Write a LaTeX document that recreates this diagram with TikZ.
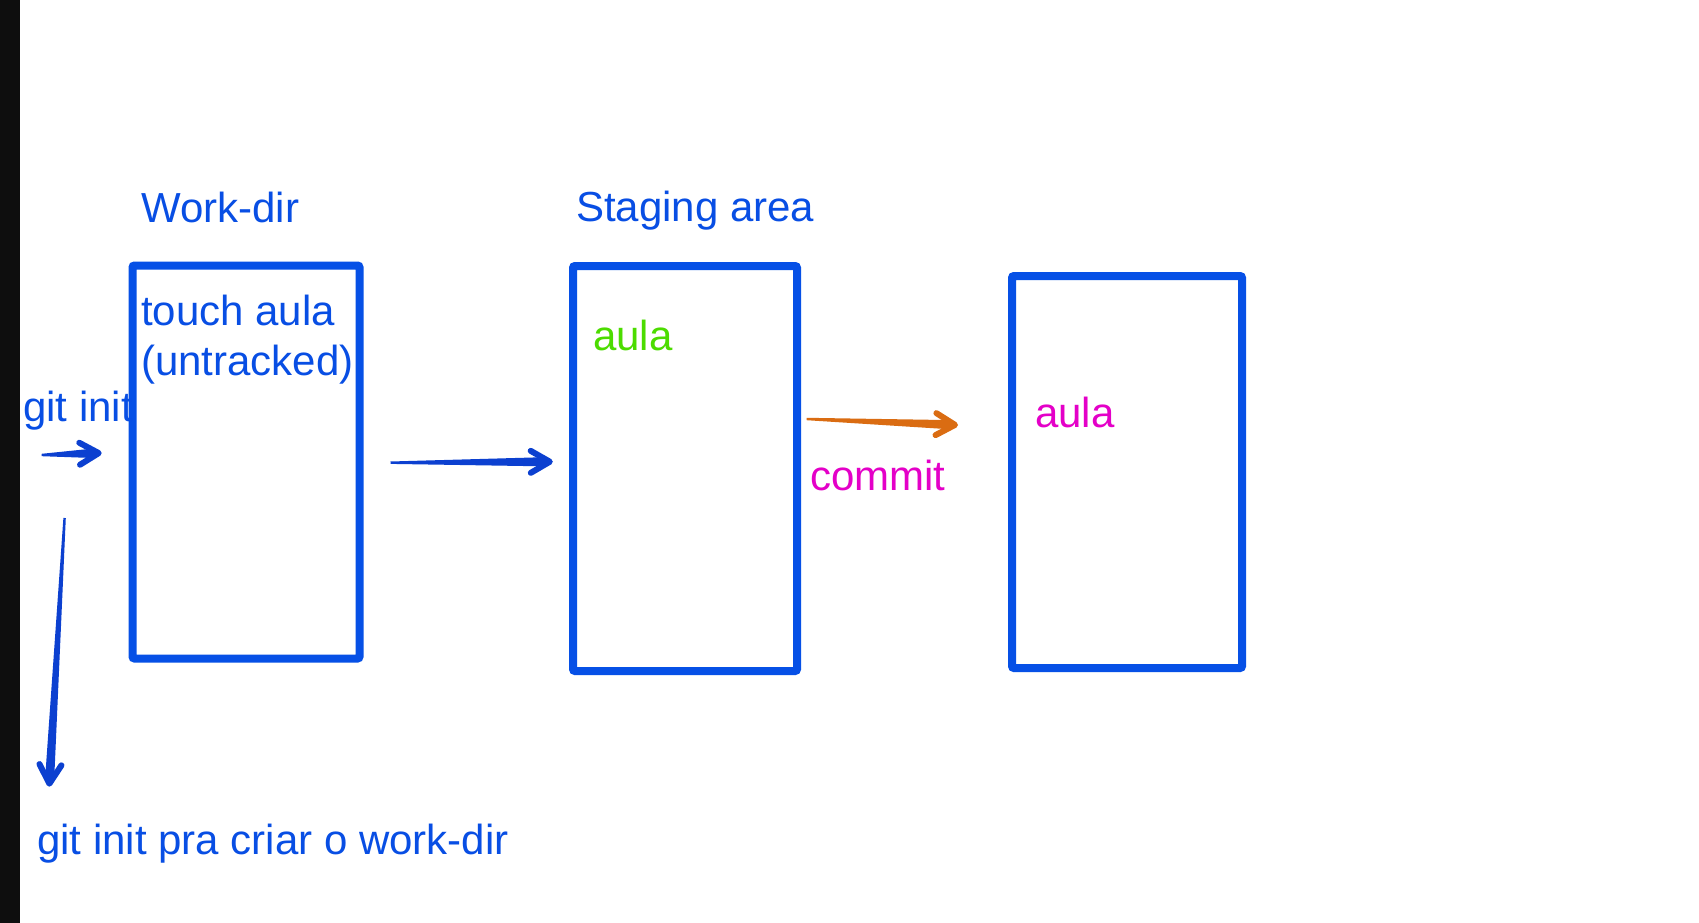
\documentclass[tikz,border=0pt]{standalone}
\usepackage{fontspec}
\setmainfont{Liberation Sans}
\usetikzlibrary{calc}
\definecolor{boxblue}{RGB}{6,80,230}
\definecolor{txtblue}{RGB}{8,78,228}
\definecolor{arrblue}{RGB}{12,64,208}
\definecolor{aulagreen}{RGB}{76,220,0}
\definecolor{magen}{RGB}{228,0,200}
\definecolor{orng}{RGB}{218,108,18}
\definecolor{sidebar}{RGB}{14,14,14}

\newcommand\taperarrow[3]{%
  \coordinate (h#2) at ($(#3)!12pt!(#2)$);
  \coordinate (t#2) at ($(#3)!3pt!(#2)$);
  \fill[#1] ($(#2)!1.2pt!90:(#3)$) -- ($(h#2)!4.5pt!-90:(#2)$) -- (t#2) -- ($(h#2)!4.5pt!90:(#2)$) -- ($(#2)!1.2pt!-90:(#3)$) -- cycle;
  \draw[#1, line width=6pt, line cap=round, line join=round] ($(t#2)!22pt!30:(#2)$) -- (t#2) -- ($(t#2)!22pt!-30:(#2)$);
}

\begin{document}
\begin{tikzpicture}[x=1pt,y=-1pt,
  box/.style={draw=boxblue, line width=8pt, rounded corners=2pt, inner sep=0pt, fill=none},
  lbl/.style={anchor=base west, inner sep=0pt, font=\fontsize{42}{50}\selectfont},
]
\useasboundingbox (0,0) rectangle (1699,923);
\fill[white] (0,0) rectangle (1699,923);
\fill[sidebar] (0,0) rectangle (19.5,923);

% boxes
\node[box, minimum width=227pt, minimum height=393pt] (workdir) at (246,462) {};
\node[box, minimum width=224pt, minimum height=405pt] (staging) at (685,468.5) {};
\node[box, minimum width=230pt, minimum height=392pt] (repo) at (1127,472) {};

% labels
\node[lbl, text=txtblue] (wdlabel) at (141,222) {Work-dir};
\node[lbl, text=txtblue] (salabel) at (576,221) {Staging area};
\node[lbl, text=txtblue] (touch) at (141,325) {touch aula};
\node[lbl, text=txtblue] (untr) at (141,375) {(untracked)};
\node[lbl, text=txtblue] (gitinit) at (23,421) {git init};
\node[lbl, text=txtblue] (gitinitlong) at (37,854) {git init pra criar o work-dir};
\node[lbl, text=aulagreen] (aulag) at (593,350) {aula};
\node[lbl, text=magen] (commit) at (810,490) {commit};
\node[lbl, text=magen] (aulam) at (1035,427) {aula};

% arrow end points
\coordinate (a1s) at (41.7,455);
\coordinate (a1e) at (101.7,453);
\coordinate (a2s) at (64.6,518);
\coordinate (a2e) at (49.2,786.7);
\coordinate (a3s) at (390.5,462.7);
\coordinate (a3e) at (552.8,461.7);
\coordinate (a4s) at (806.6,419);
\coordinate (a4e) at (958,425);

\taperarrow{arrblue}{a1s}{a1e}
\taperarrow{arrblue}{a2s}{a2e}
\taperarrow{arrblue}{a3s}{a3e}
\taperarrow{orng}{a4s}{a4e}
\end{tikzpicture}
\end{document}
